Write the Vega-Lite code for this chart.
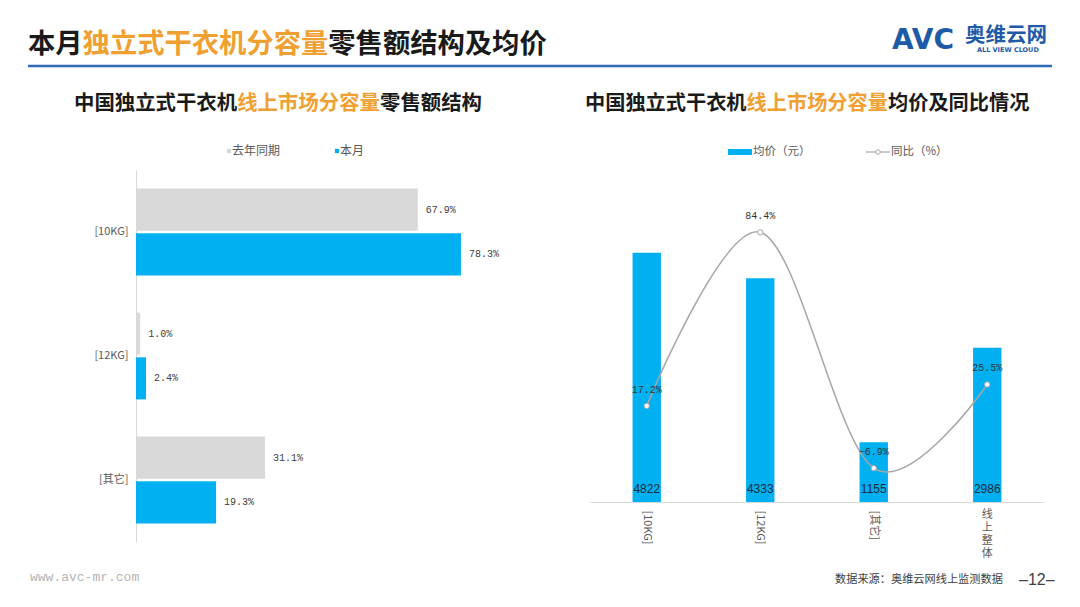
{
  "$schema": "https://vega.github.io/schema/vega-lite/v6.json",
  "width": 1080,
  "height": 607,
  "autosize": {"type": "none"},
  "padding": 0,
  "background": "white",
  "config": {"view": {"stroke": null}, "font": "Noto Sans CJK SC"},
  "datasets": {
    "share": [
      {"cat": "[10KG]", "period": "去年同期", "share": 0.679},
      {"cat": "[10KG]", "period": "本月", "share": 0.783},
      {"cat": "[12KG]", "period": "去年同期", "share": 0.010},
      {"cat": "[12KG]", "period": "本月", "share": 0.024},
      {"cat": "[其它]", "period": "去年同期", "share": 0.311},
      {"cat": "[其它]", "period": "本月", "share": 0.193}
    ],
    "price": [
      {"cat": "[10KG]", "price": 4822, "yoy": 0.172},
      {"cat": "[12KG]", "price": 4333, "yoy": 0.844},
      {"cat": "[其它]", "price": 1155, "yoy": -0.069},
      {"cat": "线上整体", "price": 2986, "yoy": 0.255}
    ],
    "one": [{}]
  },
  "resolve": {
    "scale": {"x": "independent", "y": "independent", "color": "independent", "yOffset": "independent"},
    "axis": {"x": "independent", "y": "independent"}
  },
  "layer": [
    {
      "data": {"name": "share"},
      "mark": {"type": "bar"},
      "encoding": {
        "y": {"field": "cat", "type": "nominal",
          "scale": {"domain": ["[10KG]", "[12KG]", "[其它]"], "range": [170, 542], "paddingInner": 0.3, "paddingOuter": 0.15},
          "axis": {"title": null, "orient": "left", "offset": -136, "domainColor": "#d9d9d9", "ticks": false, "labelFontSize": 11, "labelColor": "#595959", "labelPadding": 8, "labelFont": "Noto Sans CJK SC"}},
        "yOffset": {"field": "period", "type": "nominal", "scale": {"domain": ["去年同期", "本月"], "paddingInner": 0.06}},
        "x": {"field": "share", "type": "quantitative", "scale": {"domain": [0, 1], "range": [136, 551]}, "axis": null},
        "color": {"field": "period", "type": "nominal",
          "scale": {"domain": ["去年同期", "本月"], "range": ["#d9d9d9", "#00b0f0"]},
          "legend": {"orient": "none", "legendX": 223, "legendY": 145, "direction": "horizontal", "title": null, "symbolType": "square", "symbolSize": 18, "labelFontSize": 12, "labelColor": "#595959", "columnPadding": 50, "symbolStrokeWidth": 0, "labelOffset": -3, "labelFont": "Noto Sans CJK SC"}}
      }
    },
    {
      "data": {"name": "share"},
      "mark": {"type": "text", "align": "left", "baseline": "middle", "dx": 8, "font": "Liberation Mono", "fontSize": 10, "color": "#404040"},
      "encoding": {
        "y": {"field": "cat", "type": "nominal", "scale": {"domain": ["[10KG]", "[12KG]", "[其它]"], "range": [170, 542], "paddingInner": 0.3, "paddingOuter": 0.15}, "axis": null},
        "yOffset": {"field": "period", "type": "nominal", "scale": {"domain": ["去年同期", "本月"], "paddingInner": 0.06}},
        "x": {"field": "share", "type": "quantitative", "scale": {"domain": [0, 1], "range": [136, 551]}, "axis": null},
        "text": {"field": "share", "type": "quantitative", "format": ".1%"}
      }
    },
    {
      "data": {"name": "price"},
      "mark": {"type": "bar", "color": "#00b0f0"},
      "encoding": {
        "x": {"field": "cat", "type": "nominal",
          "scale": {"domain": ["[10KG]", "[12KG]", "[其它]", "线上整体"], "range": [590, 1044], "paddingInner": 0.75, "paddingOuter": 0.375},
          "axis": {"title": null, "orient": "bottom", "offset": -105, "domainColor": "#d9d9d9", "ticks": false, "labelAngle": 90, "labelFontSize": 11, "labelColor": "#595959", "labelPadding": 8, "labelFont": "Noto Sans CJK SC", "labelExpr": "datum.value == '线上整体' ? '' : datum.value"}},
        "y": {"field": "price", "type": "quantitative", "scale": {"domain": [0, 6000], "range": [502, 192]}, "axis": null}
      }
    },
    {
      "data": {"name": "price"},
      "mark": {"type": "text", "baseline": "middle", "dy": -13, "font": "Liberation Sans", "fontSize": 12, "color": "#1f2a3a"},
      "encoding": {
        "x": {"field": "cat", "type": "nominal", "scale": {"domain": ["[10KG]", "[12KG]", "[其它]", "线上整体"], "range": [590, 1044], "paddingInner": 0.75, "paddingOuter": 0.375}, "axis": null},
        "y": {"datum": 0, "type": "quantitative", "scale": {"domain": [0, 6000], "range": [502, 192]}, "axis": null},
        "text": {"field": "price", "type": "quantitative", "format": "d"}
      }
    },
    {
      "data": {"name": "price"},
      "mark": {"type": "line", "interpolate": "cardinal", "color": "#a6a6a6", "strokeWidth": 1.5},
      "encoding": {
        "x": {"field": "cat", "type": "nominal", "scale": {"domain": ["[10KG]", "[12KG]", "[其它]", "线上整体"], "range": [590, 1044], "paddingInner": 0.75, "paddingOuter": 0.375}, "axis": null},
        "y": {"field": "yoy", "type": "quantitative", "scale": {"domain": [-0.2, 1.0], "range": [502, 192]}, "axis": null}
      }
    },
    {
      "data": {"name": "price"},
      "mark": {"type": "point", "filled": true, "fill": "white", "stroke": "#a6a6a6", "strokeWidth": 1, "size": 28, "opacity": 1},
      "encoding": {
        "x": {"field": "cat", "type": "nominal", "scale": {"domain": ["[10KG]", "[12KG]", "[其它]", "线上整体"], "range": [590, 1044], "paddingInner": 0.75, "paddingOuter": 0.375}, "axis": null},
        "y": {"field": "yoy", "type": "quantitative", "scale": {"domain": [-0.2, 1.0], "range": [502, 192]}, "axis": null}
      }
    },
    {
      "data": {"name": "price"},
      "mark": {"type": "text", "baseline": "middle", "dy": -16, "font": "Liberation Mono", "fontSize": 10, "color": "#333333"},
      "encoding": {
        "x": {"field": "cat", "type": "nominal", "scale": {"domain": ["[10KG]", "[12KG]", "[其它]", "线上整体"], "range": [590, 1044], "paddingInner": 0.75, "paddingOuter": 0.375}, "axis": null},
        "y": {"field": "yoy", "type": "quantitative", "scale": {"domain": [-0.2, 1.0], "range": [502, 192]}, "axis": null},
        "text": {"field": "yoy", "type": "quantitative", "format": ".1%"}
      }
    },
    {
      "data": {"name": "price"},
      "transform": [{"filter": "datum.cat == '线上整体'"}],
      "mark": {"type": "text", "text": ["线", "上", "整", "体"], "baseline": "top", "lineHeight": 13, "fontSize": 11, "color": "#595959"},
      "encoding": {
        "x": {"field": "cat", "type": "nominal", "scale": {"domain": ["[10KG]", "[12KG]", "[其它]", "线上整体"], "range": [590, 1044], "paddingInner": 0.75, "paddingOuter": 0.375}, "axis": null},
        "y": {"value": 509}
      }
    },
    {"data": {"name": "one"}, "mark": {"type": "text", "text": "本月", "align": "left", "baseline": "middle", "fontSize": 27.3, "fontWeight": "bold", "color": "#1a1a1a"}, "encoding": {"x": {"value": 28}, "y": {"value": 45}}},
    {"data": {"name": "one"}, "mark": {"type": "text", "text": "独立式干衣机分容量", "align": "left", "baseline": "middle", "fontSize": 27.3, "fontWeight": "bold", "color": "#f0a030"}, "encoding": {"x": {"value": 82.6}, "y": {"value": 45}}},
    {"data": {"name": "one"}, "mark": {"type": "text", "text": "零售额结构及均价", "align": "left", "baseline": "middle", "fontSize": 27.3, "fontWeight": "bold", "color": "#1a1a1a"}, "encoding": {"x": {"value": 328.3}, "y": {"value": 45}}},
    {"data": {"name": "one"}, "mark": {"type": "rule", "color": "#2e6db4", "strokeWidth": 2.5}, "encoding": {"x": {"value": 28}, "x2": {"value": 1052}, "y": {"value": 66}}},
    {"data": {"name": "one"}, "mark": {"type": "text", "text": "AVC", "align": "left", "baseline": "middle", "font": "DejaVu Sans", "fontSize": 28, "fontWeight": "bold", "color": "#1f5aa6"}, "encoding": {"x": {"value": 892}, "y": {"value": 41}}},
    {"data": {"name": "one"}, "mark": {"type": "text", "text": "奥维云网", "align": "left", "baseline": "middle", "fontSize": 20.5, "fontWeight": "bold", "color": "#1f5aa6"}, "encoding": {"x": {"value": 965}, "y": {"value": 36}}},
    {"data": {"name": "one"}, "mark": {"type": "text", "text": "ALL VIEW CLOUD", "align": "left", "baseline": "middle", "font": "DejaVu Sans", "fontSize": 6.5, "fontWeight": "bold", "color": "#1f5aa6"}, "encoding": {"x": {"value": 977}, "y": {"value": 50}}},
    {"data": {"name": "one"}, "mark": {"type": "text", "text": "中国独立式干衣机", "align": "left", "baseline": "middle", "fontSize": 20.4, "fontWeight": "bold", "color": "#1a1a1a"}, "encoding": {"x": {"value": 74}, "y": {"value": 104}}},
    {"data": {"name": "one"}, "mark": {"type": "text", "text": "线上市场分容量", "align": "left", "baseline": "middle", "fontSize": 20.4, "fontWeight": "bold", "color": "#f0a030"}, "encoding": {"x": {"value": 237.2}, "y": {"value": 104}}},
    {"data": {"name": "one"}, "mark": {"type": "text", "text": "零售额结构", "align": "left", "baseline": "middle", "fontSize": 20.4, "fontWeight": "bold", "color": "#1a1a1a"}, "encoding": {"x": {"value": 380}, "y": {"value": 104}}},
    {"data": {"name": "one"}, "mark": {"type": "text", "text": "中国独立式干衣机", "align": "left", "baseline": "middle", "fontSize": 20.2, "fontWeight": "bold", "color": "#1a1a1a"}, "encoding": {"x": {"value": 585}, "y": {"value": 104}}},
    {"data": {"name": "one"}, "mark": {"type": "text", "text": "线上市场分容量", "align": "left", "baseline": "middle", "fontSize": 20.2, "fontWeight": "bold", "color": "#f0a030"}, "encoding": {"x": {"value": 746.6}, "y": {"value": 104}}},
    {"data": {"name": "one"}, "mark": {"type": "text", "text": "均价及同比情况", "align": "left", "baseline": "middle", "fontSize": 20.2, "fontWeight": "bold", "color": "#1a1a1a"}, "encoding": {"x": {"value": 888}, "y": {"value": 104}}},
    {"data": {"name": "one"}, "mark": {"type": "rule", "color": "#00b0f0", "strokeWidth": 6}, "encoding": {"x": {"value": 728}, "x2": {"value": 752}, "y": {"value": 152}}},
    {"data": {"name": "one"}, "mark": {"type": "text", "text": "均价（元）", "align": "left", "baseline": "middle", "fontSize": 11.5, "color": "#595959"}, "encoding": {"x": {"value": 753}, "y": {"value": 152}}},
    {"data": {"name": "one"}, "mark": {"type": "rule", "color": "#a6a6a6", "strokeWidth": 1.2}, "encoding": {"x": {"value": 866}, "x2": {"value": 890}, "y": {"value": 152}}},
    {"data": {"name": "one"}, "mark": {"type": "point", "filled": true, "fill": "white", "stroke": "#a6a6a6", "strokeWidth": 1, "size": 20, "opacity": 1}, "encoding": {"x": {"value": 878}, "y": {"value": 152}}},
    {"data": {"name": "one"}, "mark": {"type": "text", "text": "同比（%）", "align": "left", "baseline": "middle", "fontSize": 11.5, "color": "#595959"}, "encoding": {"x": {"value": 891}, "y": {"value": 152}}},
    {"data": {"name": "one"}, "mark": {"type": "text", "text": "www.avc-mr.com", "align": "left", "baseline": "middle", "font": "Liberation Mono", "fontSize": 13, "color": "#b4b4b4"}, "encoding": {"x": {"value": 30}, "y": {"value": 577}}},
    {"data": {"name": "one"}, "mark": {"type": "text", "text": "数据来源：奥维云网线上监测数据", "align": "left", "baseline": "middle", "fontSize": 11.2, "color": "#404040"}, "encoding": {"x": {"value": 835}, "y": {"value": 580}}},
    {"data": {"name": "one"}, "mark": {"type": "text", "text": "–12–", "align": "left", "baseline": "middle", "font": "Liberation Sans", "fontSize": 16, "color": "#404040"}, "encoding": {"x": {"value": 1019}, "y": {"value": 580}}}
  ]
}
